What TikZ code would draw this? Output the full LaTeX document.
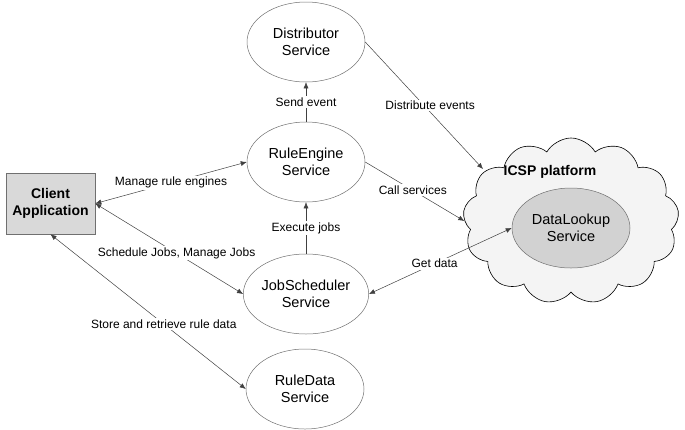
\documentclass[tikz,border=0pt]{standalone}
\usepackage{fontspec}
\setmainfont{Liberation Sans}
\usetikzlibrary{shapes.geometric,shapes.symbols,arrows.meta}
\definecolor{lineg}{HTML}{404040}
\definecolor{ellg}{HTML}{707070}
\definecolor{boxg}{HTML}{D9D9D9}
\definecolor{cloudg}{HTML}{F4F4F4}
\definecolor{dlg}{HTML}{D2D2D2}
\tikzset{
  svc/.style={ellipse, draw=ellg, line width=0.5pt, minimum width=118pt, minimum height=80pt, inner sep=0pt, align=center, font=\fontsize{14.5}{17}\selectfont},
  conn/.style={draw=lineg, line width=0.5pt, -{Latex[length=6pt,width=5pt]}},
  both/.style={conn, {Latex[length=6pt,width=5pt]}-{Latex[length=6pt,width=5pt]}},
  lbl/.style={fill=white, inner sep=1.5pt, font=\fontsize{12}{14}\selectfont, text=black}
}
\begin{document}
\begin{tikzpicture}[x=1pt,y=-1pt]
\useasboundingbox (0,0) rectangle (685,429);
% cloud
\node[cloud, cloud puffs=13, cloud puff arc=120, aspect=1.3, draw=black, line width=0.6pt, fill=cloudg, minimum width=216pt, minimum height=166pt, inner sep=0pt] (cloud) at (571,221) {};
\node[font=\fontsize{14}{17}\selectfont\bfseries] (icsp) at (550,172) {ICSP platform};
\node[svc, fill=dlg] (dl) at (571,228) {DataLookup\\Service};
% services
\node[svc] (ds) at (306,42) {Distributor\\Service};
\node[svc] (re) at (306,162) {RuleEngine\\Service};
\node[svc] (js) at (306,294) {JobScheduler\\Service};
\node[svc] (rd) at (305,389) {RuleData\\Service};
% client
\node[draw=ellg, fill=boxg, line width=0.6pt, minimum width=89pt, minimum height=61pt, inner sep=0pt, align=center, font=\fontsize{14}{17}\selectfont\bfseries] (client) at (50.5,203.5) {Client\\Application};
\coordinate (cin) at (483,169);
% connectors
\draw[conn] (re.north) -- node[lbl,pos=0.5] {Send event} (ds.south);
\draw[conn] (js.north) -- node[lbl,pos=0.5] {Execute jobs} (re.south);
\draw[conn] (ds.east) -- node[lbl,pos=0.5,xshift=6pt] {Distribute events} (cin);
\draw[conn] (re.east) -- node[lbl,pos=0.48] {Call services} (cloud.west);
\draw[both] (client.east) -- node[lbl,pos=0.5] {Manage rule engines} (re.west);
\draw[both] (client.east) -- node[lbl,pos=0.55] {Schedule Jobs, Manage Jobs} (js.west);
\draw[both] (client.south) -- node[lbl,pos=0.58] {Store and retrieve rule data} (rd.west);
\draw[both] (js.east) -- node[lbl,pos=0.46] {Get data} (dl.west);
\end{tikzpicture}
\end{document}
